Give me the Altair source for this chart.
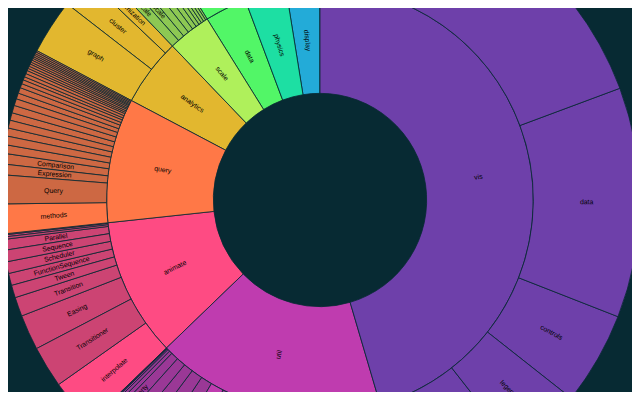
import math
import altair as alt
import pandas as pd

BG = "#072a33"

# depth-1 categories of the flare hierarchy and their depth-2 children
# (name, value, has_children)
analytics_nodes = [("cluster", 15207, True), ("graph", 26435, True), ("optimization", 7074, True)]
animate_nodes = [("Easing", 17010, False), ("FunctionSequence", 5842, False), ("interpolate", 23081, True),
                 ("ISchedulable", 1041, False), ("Parallel", 5176, False), ("Pause", 449, False),
                 ("Scheduler", 5593, False), ("Sequence", 5534, False), ("Transition", 9201, False),
                 ("Transitioner", 19975, False), ("TransitionEvent", 1116, False), ("Tween", 6006, False)]
data_nodes = [("converters", 18349, True), ("DataField", 1759, False), ("DataSchema", 2165, False),
              ("DataSet", 586, False), ("DataSource", 3331, False), ("DataTable", 772, False),
              ("DataUtil", 3322, False)]
display_nodes = [("DirtySprite", 8833, False), ("LineSprite", 1732, False), ("RectSprite", 3623, False),
                 ("TextSprite", 10066, False)]
flex_nodes = [("FlareVis", 4116, False)]
physics_nodes = [("DragForce", 1082, False), ("GravityForce", 1336, False), ("IForce", 319, False),
                 ("NBodyForce", 10498, False), ("Particle", 2822, False), ("Simulation", 9983, False),
                 ("Spring", 2213, False), ("SpringForce", 1681, False)]
query_nodes = [("AggregateExpression", 1616, False), ("And", 1027, False), ("Arithmetic", 3891, False),
               ("Average", 891, False), ("BinaryExpression", 2893, False), ("Comparison", 5103, False),
               ("CompositeExpression", 3677, False), ("Count", 781, False), ("DateUtil", 4141, False),
               ("Distinct", 933, False), ("Expression", 5130, False), ("ExpressionIterator", 3617, False),
               ("Fn", 3240, False), ("If", 2732, False), ("IsA", 2039, False), ("Literal", 1214, False),
               ("Match", 3748, False), ("Maximum", 843, False), ("methods", 14326, True),
               ("Minimum", 843, False), ("Not", 1554, False), ("Or", 970, False), ("Query", 13896, False),
               ("Range", 1594, False), ("StringUtil", 4130, False), ("Sum", 791, False),
               ("Variable", 1124, False), ("Variance", 1876, False), ("Xor", 1101, False)]
scale_nodes = [("IScaleMap", 2105, False), ("LinearScale", 1316, False), ("LogScale", 3151, False),
               ("OrdinalScale", 3770, False), ("QuantileScale", 2435, False), ("QuantitativeScale", 4839, False),
               ("RootScale", 1756, False), ("Scale", 4268, False), ("ScaleType", 1821, False),
               ("TimeScale", 5833, False)]
util_nodes = [("Arrays", 8258, False), ("Colors", 10001, False), ("Dates", 8217, False),
              ("Displays", 12555, False), ("Filter", 2324, False), ("Geometry", 10993, False),
              ("heap", 10587, True), ("IEvaluable", 335, False), ("IPredicate", 383, False),
              ("IValueProxy", 874, False), ("math", 9346, True), ("Maths", 17705, False),
              ("Orientation", 1486, False), ("palette", 11946, True), ("Property", 5559, False),
              ("Shapes", 19118, False), ("Sort", 6887, False), ("Stats", 6557, False),
              ("Strings", 22026, False)]
vis_nodes = [("axis", 33886, True), ("controls", 44639, True), ("data", 110583, True),
             ("events", 7011, True), ("legend", 36003, True), ("operator", 183967, True),
             ("Visualization", 16540, False)]

hierarchy = [("analytics", analytics_nodes), ("animate", animate_nodes), ("data", data_nodes),
             ("display", display_nodes), ("flex", flex_nodes), ("physics", physics_nodes),
             ("query", query_nodes), ("scale", scale_nodes), ("util", util_nodes), ("vis", vis_nodes)]

rows = []
for top, kids in hierarchy:
    total = sum(v for _, v, _ in kids)
    rows.append({"name": top, "top": top, "value": total, "pval": total, "depth": 1, "leaf": False})
    for name, v, has_kids in kids:
        rows.append({"name": name, "top": top, "value": v, "pval": total, "depth": 2, "leaf": not has_kids})
df = pd.DataFrame(rows)

top_order = list(df[df.depth == 1].sort_values("value", ascending=False)["name"])


def rainbow(t):
    # d3.interpolateRainbow (cubehelix)
    ts = abs(t - 0.5)
    h = math.radians(360 * t - 100 + 120)
    s = 1.5 - 1.5 * ts
    l = 0.8 - 0.9 * ts
    a = s * l * (1 - l)
    c, sn = math.cos(h), math.sin(h)
    rgb = [l + a * (-0.14861 * c + 1.78277 * sn),
           l + a * (-0.29227 * c - 0.90649 * sn),
           l + a * (1.97294 * c)]
    return "#" + "".join("%02x" % max(0, min(255, round(255 * x))) for x in rgb)


palette = [rainbow(i / len(top_order)) for i in range(len(top_order))]

base = (
    alt.Chart(df)
    .transform_joinaggregate(total="sum(value)", groupby=["depth"])
    .transform_stack(
        stack="value",
        as_=["v0", "v1"],
        groupby=["depth"],
        sort=[alt.SortField("pval", order="descending"),
              alt.SortField("top", order="ascending"),
              alt.SortField("value", order="descending")],
    )
    .transform_calculate(r0="datum.depth", r1="datum.depth + 1", rm="datum.depth + 0.5")
)

rscale = alt.Scale(type="linear", domain=[0, 3], range=[0, 320])

arcs = base.mark_arc(stroke=BG, strokeWidth=0.8).encode(
    theta=alt.Theta("v0:Q"),
    theta2="v1:Q",
    radius=alt.Radius("r1:Q", scale=rscale),
    radius2="r0:Q",
    color=alt.Color("top:N", scale=alt.Scale(domain=top_order, range=palette), legend=None),
    fillOpacity=alt.condition("datum.leaf", alt.value(0.8), alt.value(1.0)),
)

labels = (
    base.transform_filter("(datum.v1 - datum.v0) / datum.total * 2 * PI > 0.03")
    .transform_calculate(
        mid="(datum.v0 + datum.v1) / 2",
        deg="(datum.v0 + datum.v1) / 2 / datum.total * 360",
    )
    .transform_calculate(
        ang="datum.deg < 180 ? (datum.deg + 270) % 360 : (datum.deg + 90) % 360"
    )
    .mark_text(font="Liberation Sans", fontSize=6.9, align="center", baseline="middle", color="black")
    .encode(
        theta=alt.Theta("mid:Q"),
        radius=alt.Radius("rm:Q", scale=rscale),
        angle=alt.Angle("ang:Q", scale=None),
        text="name:N",
    )
)

chart = (
    alt.layer(arcs, labels)
    .properties(
        width=624,
        height=384,
        padding=0,
        autosize=alt.AutoSizeParams(type="none"),
        background=BG,
    )
    .configure_view(stroke=None)
)

chart.save("out.html", embed_options={"renderer": "svg", "actions": False})
